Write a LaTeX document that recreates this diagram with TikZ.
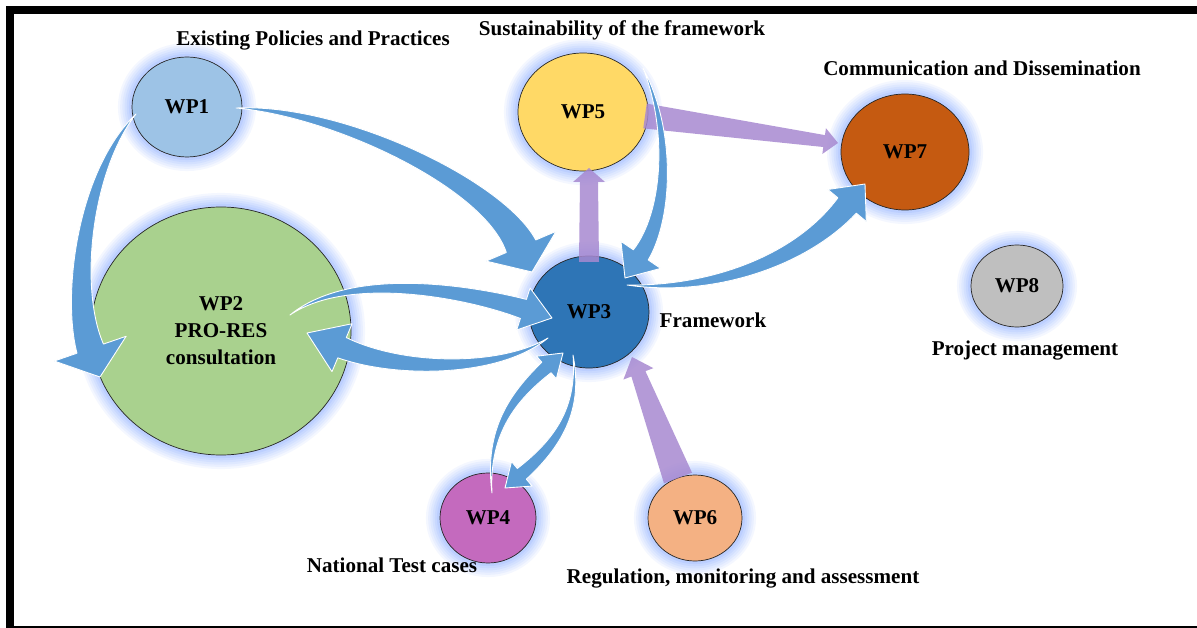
\documentclass[tikz,border=0pt]{standalone}
\usepackage{fontspec}
\setmainfont{Liberation Serif}
\usetikzlibrary{shapes.geometric,calc}

\definecolor{wpone}{RGB}{157,195,230}
\definecolor{wptwo}{RGB}{169,209,142}
\definecolor{wpthree}{RGB}{46,117,182}
\definecolor{wpfour}{RGB}{196,106,190}
\definecolor{wpfive}{RGB}{255,217,102}
\definecolor{wpsix}{RGB}{244,177,131}
\definecolor{wpseven}{RGB}{197,90,17}
\definecolor{wpeight}{RGB}{191,191,191}
\definecolor{flowblue}{RGB}{91,155,213}
\definecolor{flowpurple}{RGB}{167,137,208}
\definecolor{haloblue}{RGB}{105,150,255}

\tikzset{
	wp/.style={ellipse,draw=black!85,thin,inner sep=0pt,align=center,
		font=\bfseries\fontsize{12}{15.3}\selectfont,
		preaction={draw=haloblue,line width=16pt,opacity=0.07},
		preaction={draw=haloblue,line width=13.5pt,opacity=0.08},
		preaction={draw=haloblue,line width=11pt,opacity=0.08},
		preaction={draw=haloblue,line width=8.5pt,opacity=0.09},
		preaction={draw=haloblue,line width=6pt,opacity=0.1},
		preaction={draw=haloblue,line width=3.5pt,opacity=0.12}},
	dims/.style 2 args={minimum width=#1*0.02cm,minimum height=#2*0.02cm},
	caption/.style={font=\bfseries\fontsize{12}{14}\selectfont},
	flow/.style={fill=flowblue,draw=white,line width=0.5pt,line join=round},
	push/.style={fill=flowpurple,opacity=0.85}
}

% tapered curved arrow: tail, two controls, tip, shaft/head half widths, head length
\newcommand{\bentarrow}[8][flow]{%
	\coordinate (t0) at (#2);
	\coordinate (k1) at (#3);
	\coordinate (k2) at (#4);
	\coordinate (tp) at (#5);
	\coordinate (bs) at ($(tp)!#8*0.02cm!(k2)$);
	\fill[#1] (t0) .. controls ($(k1)!#6*0.01cm!90:(k2)$) and ($(k2)!#6*0.013cm!90:(tp)$) .. ($(bs)!#6*0.02cm!90:(tp)$)
		-- ($(bs)!#7*0.02cm!90:(tp)$) -- (tp) -- ($(bs)!#7*0.02cm!-90:(tp)$) -- ($(bs)!#6*0.02cm!-90:(tp)$)
		.. controls ($(k2)!#6*0.013cm!-90:(tp)$) and ($(k1)!#6*0.01cm!-90:(k2)$) .. cycle;
}

% straight arrow narrowing from tail to head
\newcommand{\straightpush}[7][push]{%
	\coordinate (t0) at (#2);
	\coordinate (tp) at (#3);
	\coordinate (bs) at ($(tp)!#7*0.02cm!(t0)$);
	\fill[#1] ($(t0)!#4*0.02cm!90:(tp)$) -- ($(bs)!#5*0.02cm!90:(tp)$) -- ($(bs)!#6*0.02cm!90:(tp)$) -- (tp)
		-- ($(bs)!#6*0.02cm!-90:(tp)$) -- ($(bs)!#5*0.02cm!-90:(tp)$) -- ($(t0)!#4*0.02cm!-90:(tp)$) -- cycle;
}

\begin{document}
\begin{tikzpicture}[x=0.02cm,y=-0.02cm]
	\useasboundingbox (0,0) rectangle (1197,628);
	\fill[white] (0,0) rectangle (1197,628);
	\draw[line width=4.6pt] (10,10) rectangle (1212,630);

	\node[wp,fill=wpone,dims={110}{100}] (wp1) at (187,107) {WP1};
	\node[wp,fill=wptwo,dims={260}{248}] (wp2) at (221,331) {WP2\\PRO-RES\\consultation};
	\node[wp,fill=wpthree,dims={120}{112}] (wp3) at (589,312) {WP3};
	\node[wp,fill=wpfour,dims={96}{90}] (wp4) at (488,518) {WP4};
	\node[wp,fill=wpfive,dims={130}{118}] (wp5) at (583,112) {WP5};
	\node[wp,fill=wpsix,dims={94}{86}] (wp6) at (695,518) {WP6};
	\node[wp,fill=wpseven,dims={128}{116}] (wp7) at (905,152) {WP7};
	\node[wp,fill=wpeight,dims={92}{82}] (wp8) at (1017,286) {WP8};

	\node[caption] (cap1) at (313,41) {Existing Policies and Practices};
	\node[caption] (cap5) at (622,30) {Sustainability of the framework};
	\node[caption] (cap7) at (982,68) {Communication and Dissemination};
	\node[caption] (cap3) at (713,320) {Framework};
	\node[caption] (cap8) at (1025,351) {Project management};
	\node[caption] (cap4) at (392,565) {National Test cases};
	\node[caption] (cap6) at (743,579) {Regulation, monitoring and assessment};

	\straightpush{[shift={(0,-50)}]wp3.center}{[shift={(6,56)}]wp5.center}{10}{9}{16}{14}
	\straightpush{[shift={(62,4)}]wp5.center}{[shift={(-67,-9)}]wp7.center}{12.5}{6}{13}{14}
	\straightpush{[shift={(-17,-40)}]wp6.center}{[shift={(43,45)}]wp3.center}{15}{7.5}{16}{18}

	\bentarrow{[shift={(49,1)}]wp1.center}{340,110}{495,185}{[shift={(-57,-40)}]wp3.center}{16}{38}{28}
	\bentarrow{[shift={(-51,7)}]wp1.center}{85,170}{70,290}{[shift={(-121,46)}]wp2.center}{14}{38}{30}
	\bentarrow{[shift={(69,-16)}]wp2.center}{350,270}{470,292}{[shift={(-37,6)}]wp3.center}{10}{22}{30}
	\bentarrow{[shift={(-41,26)}]wp3.center}{500,372}{400,372}{[shift={(86,2)}]wp2.center}{11}{26}{38}
	\bentarrow{[shift={(60,-44)}]wp5.center}{672,130}{668,215}{[shift={(36,-34)}]wp3.center}{9}{24}{28}
	\bentarrow{[shift={(38,-27)}]wp3.center}{710,292}{800,262}{[shift={(-40,32)}]wp7.center}{12}{25}{28}
	\bentarrow{[shift={(4,-25)}]wp4.center}{486,430}{515,395}{[shift={(-26,41)}]wp3.center}{7}{15}{22}
	\bentarrow{[shift={(-16,43)}]wp3.center}{580,405}{562,440}{[shift={(17,-30)}]wp4.center}{7}{16}{22}
\end{tikzpicture}
\end{document}
